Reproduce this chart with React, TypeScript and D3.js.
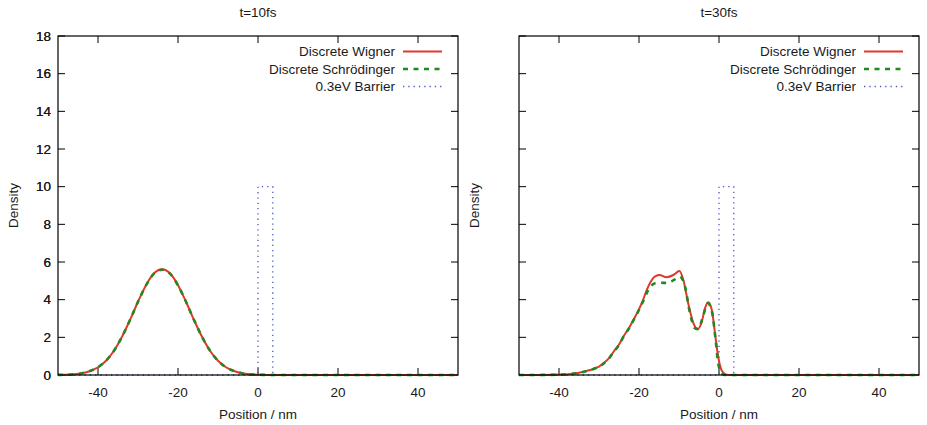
import React from "react";
import * as d3 from "d3";

// ---------- data ----------
const panelTitles = ["t=10fs", "t=30fs"];
const seriesNames = ["Discrete Wigner", "Discrete Schrödinger", "0.3eV Barrier"];
const xTicks = [-40, -20, 0, 20, 40];
const yTicks = [0, 2, 4, 6, 8, 10, 12, 14, 16, 18];
const xDomain = [-50, 50];
const yDomain = [0, 18];

// t=10fs
const wigner10: [number, number][] = [
  [-50, 0.006], [-48, 0.016], [-46, 0.04], [-44, 0.095], [-42, 0.21], [-40, 0.41],
  [-38, 0.76], [-36, 1.29], [-34, 2.03], [-32, 2.92], [-30, 3.89], [-28, 4.77],
  [-26, 5.4], [-24, 5.62], [-22, 5.4], [-20, 4.77], [-18, 3.89], [-16, 2.92],
  [-14, 2.03], [-12, 1.29], [-10, 0.76], [-8, 0.41], [-6, 0.21], [-4, 0.095],
  [-2, 0.04], [0, 0.016], [2, 0.006], [4, 0], [50, 0],
];
const schrod10: [number, number][] = [
  [-50, 0.006], [-48, 0.016], [-46, 0.04], [-44, 0.095], [-42, 0.21], [-40, 0.41],
  [-38, 0.76], [-36, 1.29], [-34, 2.03], [-32, 2.92], [-30, 3.89], [-28, 4.76],
  [-26, 5.38], [-24, 5.59], [-22, 5.38], [-20, 4.76], [-18, 3.89], [-16, 2.92],
  [-14, 2.03], [-12, 1.29], [-10, 0.76], [-8, 0.41], [-6, 0.21], [-4, 0.095],
  [-2, 0.04], [0, 0.016], [2, 0.006], [4, 0], [50, 0],
];

// t=30fs
const wigner30: [number, number][] = [
  [-50, 0], [-44, 0.005], [-40, 0.02], [-37, 0.06], [-35, 0.12], [-33, 0.22],
  [-31.4, 0.32], [-30, 0.45], [-28.9, 0.62], [-27.5, 0.9], [-26.4, 1.22],
  [-25, 1.62], [-23.9, 2.04], [-22.5, 2.5], [-21.4, 2.92], [-20, 3.5],
  [-19, 3.98], [-18, 4.55], [-17, 4.98], [-16.2, 5.2], [-14.9, 5.31],
  [-13.1, 5.19], [-11.4, 5.31], [-9.9, 5.52], [-8.9, 5.04], [-7.7, 3.81],
  [-6.4, 2.75], [-5.4, 2.43], [-4.3, 2.83], [-3.5, 3.54], [-2.7, 3.86],
  [-1.8, 3.45], [-1.0, 2.21], [-0.2, 0.97], [0.7, 0.23], [1.9, 0.02], [3, 0], [50, 0],
];
const schrod30: [number, number][] = [
  [-50, 0], [-44, 0.005], [-40, 0.02], [-37, 0.06], [-35, 0.12], [-33, 0.22],
  [-31.4, 0.32], [-30, 0.45], [-28.9, 0.6], [-27.5, 0.88], [-26.4, 1.2],
  [-25, 1.6], [-23.9, 2.02], [-22.5, 2.48], [-21.4, 2.9], [-20, 3.45],
  [-19, 3.9], [-18, 4.38], [-17, 4.72], [-16, 4.87], [-14.5, 4.9],
  [-13, 4.88], [-11, 5.08], [-9.75, 5.22], [-8.5, 4.69], [-7.25, 3.28],
  [-6, 2.48], [-5.2, 2.44], [-3.9, 3.19], [-2.8, 3.81], [-1.8, 3.4],
  [-0.75, 1.68], [-0.2, 0.62], [0.7, 0.09], [1.5, 0], [50, 0],
];

const barrier: [number, number][] = [
  [-50, 0], [0, 0], [0, 10], [3.7, 10], [3.7, 0], [50, 0],
];

const panelWigner = [wigner10, wigner30];
const panelSchrod = [schrod10, schrod30];

// ---------- layout / style ----------
const W = 927;
const H = 425;
const panelLefts = [58, 519];
const plotW = 400;
const plotTop = 36;
const plotBottom = 375;
const FONT = "'Liberation Sans', Arial, Helvetica, sans-serif";
const FS = 13.5;
const RED = "#e2382c";
const GREEN = "#1f8a1f";
const BLUE = "#4658cc";
const TEXT = "#1a1a1a";
const TICK = 7;

function Panel({ idx }: { idx: number }) {
  const left = panelLefts[idx];
  const right = left + plotW;
  const x = d3.scaleLinear().domain(xDomain).range([left, right]);
  const y = d3.scaleLinear().domain(yDomain).range([plotBottom, plotTop]);
  const line = d3
    .line<[number, number]>()
    .x((d) => x(d[0]))
    .y((d) => y(d[1]))
    .curve(d3.curveMonotoneX);
  const barLine = d3
    .line<[number, number]>()
    .x((d) => x(d[0]))
    .y((d) => y(d[1]));
  const cx = (left + right) / 2;
  const cy = (plotTop + plotBottom) / 2;

  const legendTextX = right - 63;
  const legendLineX0 = right - 55;
  const legendLineX1 = right - 16;
  const legendRows = [51.5, 69, 86.5];

  return (
    <g>
      {/* title */}
      <text x={cx} y={17} textAnchor="middle" fontSize={FS} fill={TEXT}>
        {panelTitles[idx]}
      </text>

      {/* ticks */}
      {xTicks.map((t) => (
        <g key={"xt" + t}>
          <line x1={x(t)} x2={x(t)} y1={plotBottom} y2={plotBottom - TICK} stroke="#000" strokeWidth={1} />
          <line x1={x(t)} x2={x(t)} y1={plotTop} y2={plotTop + TICK} stroke="#000" strokeWidth={1} />
          <text x={x(t)} y={397} textAnchor="middle" fontSize={FS} fill={TEXT}>
            {t}
          </text>
        </g>
      ))}
      {yTicks.map((t) => (
        <g key={"yt" + t}>
          <line x1={left} x2={left + TICK} y1={y(t)} y2={y(t)} stroke="#000" strokeWidth={1} />
          <line x1={right} x2={right - TICK} y1={y(t)} y2={y(t)} stroke="#000" strokeWidth={1} />
          <text x={51} y={y(t) + 4.7} textAnchor="end" fontSize={FS} fill={TEXT}>
            {t}
          </text>
        </g>
      ))}

      {/* series */}
      <path d={barLine(barrier) || ""} fill="none" stroke={BLUE} strokeWidth={1.3} strokeDasharray="1.3,4" />
      <path d={line(panelWigner[idx]) || ""} fill="none" stroke={RED} strokeWidth={2} />
      <path d={line(panelSchrod[idx]) || ""} fill="none" stroke={GREEN} strokeWidth={2.6} strokeDasharray="5,5.5" />

      {/* frame */}
      <rect x={left} y={plotTop} width={plotW} height={plotBottom - plotTop} fill="none" stroke="#000" strokeWidth={1.2} />

      {/* axis labels */}
      <text x={cx} y={419} textAnchor="middle" fontSize={FS} fill={TEXT}>
        Position / nm
      </text>
      <text
        transform={`translate(${left - 40},${cy}) rotate(-90)`}
        textAnchor="middle"
        fontSize={FS}
        fill={TEXT}
      >
        Density
      </text>

      {/* legend */}
      {seriesNames.map((name, i) => (
        <g key={name}>
          <text x={legendTextX} y={legendRows[i] + 4.7} textAnchor="end" fontSize={FS} fill={TEXT}>
            {name}
          </text>
          <line
            x1={legendLineX0}
            x2={legendLineX1}
            y1={legendRows[i]}
            y2={legendRows[i]}
            stroke={i === 0 ? RED : i === 1 ? GREEN : BLUE}
            strokeWidth={i === 0 ? 2 : i === 1 ? 2.6 : 1.3}
            strokeDasharray={i === 0 ? undefined : i === 1 ? "5,5.5" : "1.3,4"}
          />
        </g>
      ))}
    </g>
  );
}

export default function App() {
  return (
    <svg
      width={W}
      height={H}
      viewBox={`0 0 ${W} ${H}`}
      style={{ position: "absolute", left: 0, top: 0, background: "#fff" }}
      fontFamily={FONT}
    >
      <rect x={0} y={0} width={W} height={H} fill="#fff" />
      <Panel idx={0} />
      <Panel idx={1} />
    </svg>
  );
}
